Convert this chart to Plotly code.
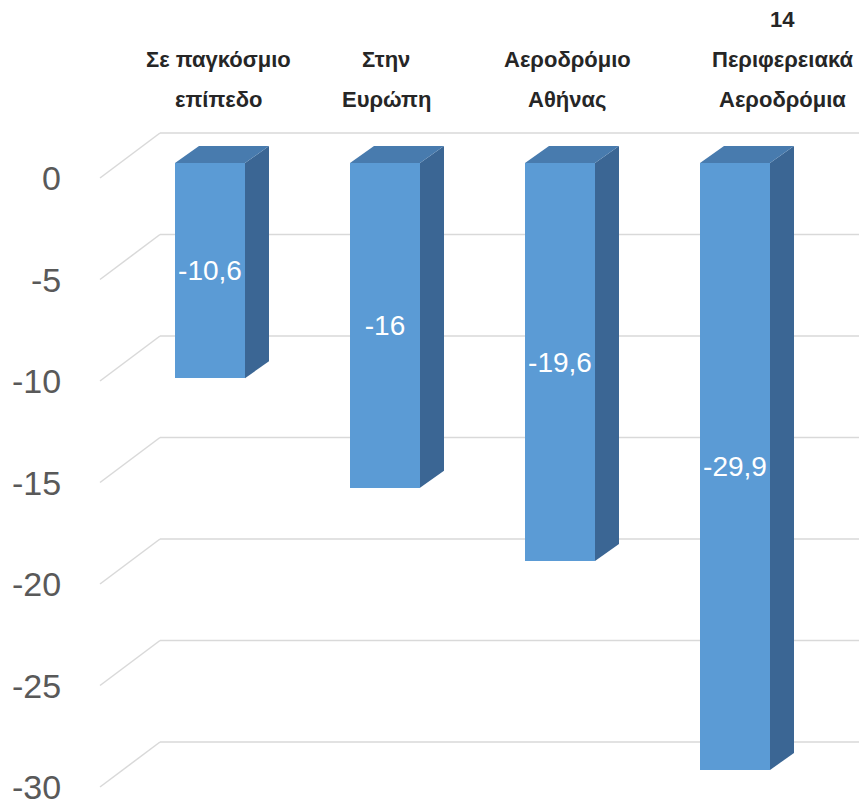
import plotly.graph_objects as go

# ---- data ----
categories = [
    ["Σε παγκόσμιο", "επίπεδο"],
    ["Στην", "Ευρώπη"],
    ["Αεροδρόμιο", "Αθήνας"],
    ["14", "Περιφερειακά", "Αεροδρόμια"],
]
values = [-10.6, -16.0, -19.6, -29.9]
tick_values = [0, -5, -10, -15, -20, -25, -30]
tick_labels = ["0", "-5", "-10", "-15", "-20", "-25", "-30"]

# ---- geometry / style ----
W, H = 859, 801
ML = 70
PX_PER_CAT = 175.0
PX_PER_UNIT = 20.3
BAR_TOP_PX = 163.0
x0 = -(210 - ML) / PX_PER_CAT
x1 = x0 + (W - ML) / PX_PER_CAT
y_lo = -(H - BAR_TOP_PX) / PX_PER_UNIT
y_hi = BAR_TOP_PX / PX_PER_UNIT
front_shift = 15 / PX_PER_UNIT   # front plane offset (down) vs bar front
back_shift = 30 / PX_PER_UNIT    # back wall offset (up) vs bar front
bar_w = 70 / PX_PER_CAT
dx = 24 / PX_PER_CAT
dy = 17 / PX_PER_UNIT

def px_to_x(p):
    return x0 + (p - ML) / PX_PER_CAT

FRONT_C = "#5B9BD5"
SIDE_C = "#3B6694"
TOP_C = "#487BAE"
GRID_C = "#D9D9D9"
FONT = "Liberation Sans, Arial"

fig = go.Figure()

xs = list(range(len(values)))

# front faces
fig.add_trace(go.Bar(
    x=xs, y=values, base=0, width=bar_w,
    marker=dict(color=FRONT_C, line=dict(width=0)),
    text=[f"{v:g}".replace(".", ",") for v in values],
    textposition="inside", insidetextanchor="middle",
    textfont=dict(color="white", size=28, family=FONT),
    textangle=0, cliponaxis=False, showlegend=False, hoverinfo="skip",
))

# side and top faces (computed from values)
for i, v in zip(xs, values):
    r = i + bar_w / 2
    l = i - bar_w / 2
    fig.add_trace(go.Scatter(
        x=[r, r + dx, r + dx, r, r], y=[0, dy, v + dy, v, 0],
        fill="toself", fillcolor=SIDE_C, mode="lines", line=dict(width=0),
        showlegend=False, hoverinfo="skip"))
    fig.add_trace(go.Scatter(
        x=[l, l + dx, r + dx, r, l], y=[0, dy, dy, 0, 0],
        fill="toself", fillcolor=TOP_C, mode="lines", line=dict(width=0),
        showlegend=False, hoverinfo="skip"))

# back wall + floor diagonal gridlines
shapes = []
xa = px_to_x(100)
xb = px_to_x(160)
for t in tick_values:
    shapes.append(dict(type="line", xref="x", yref="y", layer="below",
                       x0=xa, y0=t - front_shift, x1=xb, y1=t + back_shift,
                       line=dict(color=GRID_C, width=1.5)))
    shapes.append(dict(type="line", xref="x", yref="y", layer="below",
                       x0=xb, y0=t + back_shift, x1=x1, y1=t + back_shift,
                       line=dict(color=GRID_C, width=1.5)))

annotations = []
# value axis tick labels (front plane)
for t, lab in zip(tick_values, tick_labels):
    annotations.append(dict(
        x=0, xref="paper", y=t - front_shift, yref="y",
        text=lab, showarrow=False, xanchor="right", yanchor="middle",
        xshift=-7, font=dict(size=34, color="#595959", family=FONT)))

# category labels
label_xshift = [8, 1, 7, 47]
line_y_px = 100
line_gap = 40
for i, (lines, sh) in enumerate(zip(categories, label_xshift)):
    n = len(lines)
    for k, txt in enumerate(lines):
        ypx = line_y_px - (n - 1 - k) * line_gap
        annotations.append(dict(
            x=i, xref="x", y=1 - ypx / H, yref="paper",
            text=f"<b>{txt}</b>", showarrow=False, xanchor="center", yanchor="middle",
            xshift=sh,
            font=dict(size=22, color="#262626", family=FONT),
        ))

fig.update_layout(
    width=W, height=H,
    margin=dict(l=ML, r=0, t=0, b=0),
    paper_bgcolor="white", plot_bgcolor="white",
    shapes=shapes, annotations=annotations,
    xaxis=dict(range=[x0, x1], visible=False, fixedrange=True),
    yaxis=dict(range=[y_lo, y_hi], visible=False, fixedrange=True),
    bargap=0,
)

fig.write_html("out.html")
